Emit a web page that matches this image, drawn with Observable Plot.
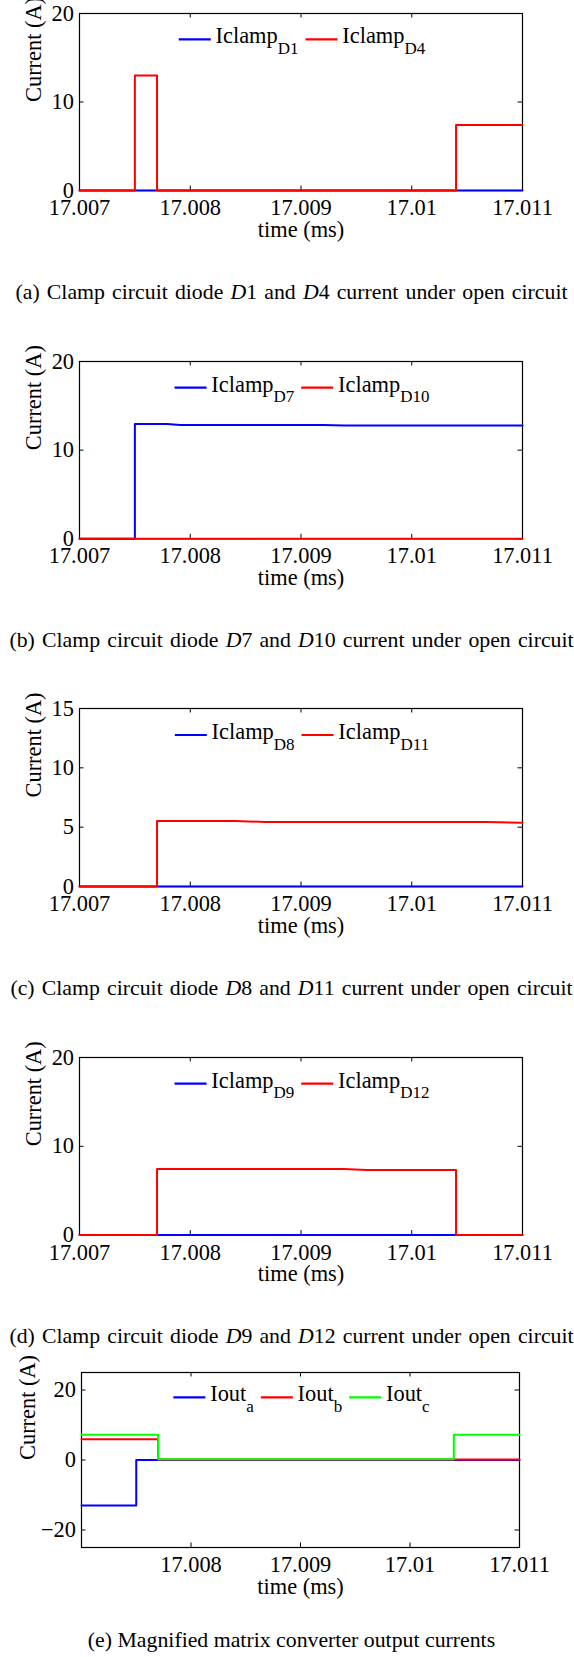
<!DOCTYPE html>
<html><head><meta charset="utf-8">
<script src="https://cdn.jsdelivr.net/npm/d3@7"></script>
<script src="https://cdn.jsdelivr.net/npm/@observablehq/plot@0.6"></script>
<style>
html,body{margin:0;padding:0;background:#fff;}
body{width:574px;height:1657px;position:relative;overflow:hidden;font-family:"Liberation Serif","Times New Roman",serif;}
.panel{position:absolute;left:0;}
.cap{position:absolute;left:0;width:574px;padding-left:9px;box-sizing:border-box;text-align:center;font-size:21.8px;line-height:1;white-space:nowrap;color:#000;}
.cap.j{word-spacing:1.7px;}
.cap i{font-style:italic;}
</style></head><body>
<div class="cap j" style="top:282px">(a) Clamp circuit diode <i>D</i>1 and <i>D</i>4 current under open circuit</div>
<div class="cap j" style="top:630px">(b) Clamp circuit diode <i>D</i>7 and <i>D</i>10 current under open circuit</div>
<div class="cap j" style="top:978px">(c) Clamp circuit diode <i>D</i>8 and <i>D</i>11 current under open circuit</div>
<div class="cap j" style="top:1326px">(d) Clamp circuit diode <i>D</i>9 and <i>D</i>12 current under open circuit</div>
<div class="cap" style="top:1630px">(e) Magnified matrix converter output currents</div>
<script>
// ---------- data ----------
const X_DOMAIN = [17.007, 17.011];
const xTicks = [17.007, 17.008, 17.009, 17.010, 17.011];
const xTickLabels = ["17.007", "17.008", "17.009", "17.01", "17.011"];
const xTicksE = [17.008, 17.009, 17.010, 17.011];
const xTickLabelsE = ["17.008", "17.009", "17.01", "17.011"];

const yTicks20 = [0, 10, 20];
const yTickLabels20 = ["0", "10", "20"];
const yTicks15 = [0, 5, 10, 15];
const yTickLabels15 = ["0", "5", "10", "15"];
const yTicksE = [-20, 0, 20];
const yTickLabelsE = ["\u221220", "0", "20"];

const xLabel = "time (ms)";
const yLabel = "Current (A)";

// (a) Iclamp D1 / D4
const aD1_t = [17.007, 17.011];
const aD1_v = [0, 0];
const aD4_t = [17.007, 17.0075, 17.0075, 17.0077, 17.0077, 17.0104, 17.0104, 17.011];
const aD4_v = [0, 0, 13, 13, 0, 0, 7.4, 7.4];
// (b) Iclamp D7 / D10
const bD7_t = [17.007, 17.0075, 17.0075, 17.00779, 17.00791, 17.0092, 17.00939, 17.011];
const bD7_v = [0, 0, 12.95, 12.95, 12.84, 12.84, 12.77, 12.77];
const bD10_t = [17.007, 17.011];
const bD10_v = [0, 0];
// (c) Iclamp D8 / D11
const cD8_t = [17.007, 17.011];
const cD8_v = [0, 0];
const cD11_t = [17.007, 17.0077, 17.0077, 17.0084, 17.00867, 17.01068, 17.011];
const cD11_v = [0, 0, 5.52, 5.52, 5.44, 5.44, 5.37];
// (d) Iclamp D9 / D12
const dD9_t = [17.007, 17.011];
const dD9_v = [0, 0];
const dD12_t = [17.007, 17.0077, 17.0077, 17.00939, 17.00959, 17.0104, 17.0104, 17.011];
const dD12_v = [0, 0, 7.43, 7.43, 7.33, 7.33, 0, 0];
// (e) Iout a / b / c
const eA_t = [17.007, 17.0075, 17.0075, 17.011];
const eA_v = [-13, -13, 0, 0];
const eB_t = [17.007, 17.0077, 17.0077, 17.011];
const eB_v = [5.95, 5.95, 0.15, 0.15];
const eC_t = [17.007, 17.0077, 17.0077, 17.0104, 17.0104, 17.011];
const eC_v = [7.2, 7.2, 0.25, 0.25, 7.2, 7.2];

const BLUE = "#0000ff", RED = "#ff0000", GREEN = "#00ff00";
const FONT = "'Liberation Serif', 'Times New Roman', serif";
const FS = 22.4;

const zip = (t, v) => t.map((d, i) => ({t: d, v: v[i]}));

const panels = [
  {frameTop: 13, frameH: 177, left: 79, right: 522, yDomain: [0, 20], yTicks: yTicks20, yTickLabels: yTickLabels20,
   xTicks: xTicks, xTickLabels: xTickLabels, ylabDx: -46, legendDy: 26.3, legendCx: 302,
   series: [{t: aD1_t, v: aD1_v, color: BLUE, name: "Iclamp", sub: "D1"}, {t: aD4_t, v: aD4_v, color: RED, name: "Iclamp", sub: "D4"}]},
  {frameTop: 360.7, frameH: 177.3, left: 79, right: 522, yDomain: [0, 20], yTicks: yTicks20, yTickLabels: yTickLabels20,
   xTicks: xTicks, xTickLabels: xTickLabels, ylabDx: -46, legendDy: 26.6, legendCx: 302,
   series: [{t: bD7_t, v: bD7_v, color: BLUE, name: "Iclamp", sub: "D7"}, {t: bD10_t, v: bD10_v, color: RED, name: "Iclamp", sub: "D10"}]},
  {frameTop: 708, frameH: 178, left: 79, right: 522, yDomain: [0, 15], yTicks: yTicks15, yTickLabels: yTickLabels15,
   xTicks: xTicks, xTickLabels: xTickLabels, ylabDx: -46, legendDy: 27, legendCx: 302,
   series: [{t: cD8_t, v: cD8_v, color: BLUE, name: "Iclamp", sub: "D8"}, {t: cD11_t, v: cD11_v, color: RED, name: "Iclamp", sub: "D11"}]},
  {frameTop: 1056.7, frameH: 177.6, left: 79, right: 522, yDomain: [0, 20], yTicks: yTicks20, yTickLabels: yTickLabels20,
   xTicks: xTicks, xTickLabels: xTickLabels, ylabDx: -46, legendDy: 26.6, legendCx: 302,
   series: [{t: dD9_t, v: dD9_v, color: BLUE, name: "Iclamp", sub: "D9"}, {t: dD12_t, v: dD12_v, color: RED, name: "Iclamp", sub: "D12"}]},
  {frameTop: 1372, frameH: 175, left: 81, right: 519, yDomain: [-25, 25], yTicks: yTicksE, yTickLabels: yTickLabelsE,
   xTicks: xTicksE, xTickLabels: xTickLabelsE, ylabDx: -54, legendDy: 25.3, legendCx: 301.5,
   series: [{t: eA_t, v: eA_v, color: BLUE, name: "Iout", sub: "a"}, {t: eB_t, v: eB_v, color: RED, name: "Iout", sub: "b"}, {t: eC_t, v: eC_v, color: GREEN, name: "Iout", sub: "c"}]}
];

const TICK = 4.5;
const MT = 13;

for (const cfg of panels) {
  const H = MT + cfg.frameH + 62;
  const [y0, y1] = cfg.yDomain;
  const [x0, x1] = X_DOMAIN;
  const svg = Plot.plot({
    width: 574, height: H,
    marginLeft: cfg.left, marginRight: 574 - cfg.right, marginTop: MT, marginBottom: H - MT - cfg.frameH,
    x: {domain: X_DOMAIN},
    y: {domain: cfg.yDomain},
    style: {fontFamily: FONT, fontSize: FS + "px", color: "#000", background: "transparent", overflow: "visible"},
    marks: [
      Plot.frame({stroke: "#000", strokeWidth: 1.2}),
      Plot.ruleX(cfg.xTicks, {x: d => d, y1: y0, y2: y0, insetBottom: TICK, stroke: "#000", strokeWidth: 1}),
      Plot.ruleX(cfg.xTicks, {x: d => d, y1: y1, y2: y1, insetTop: TICK, stroke: "#000", strokeWidth: 1}),
      Plot.ruleY(cfg.yTicks, {y: d => d, x1: x0, x2: x0, insetLeft: TICK, stroke: "#000", strokeWidth: 1}),
      Plot.ruleY(cfg.yTicks, {y: d => d, x1: x1, x2: x1, insetRight: TICK, stroke: "#000", strokeWidth: 1}),
      Plot.axisX(cfg.xTicks, {tickSize: 0, tickPadding: 8.5, label: null, fontVariant: "normal", fontFamily: FONT,
        tickFormat: d => cfg.xTickLabels[cfg.xTicks.indexOf(d)]}),
      Plot.axisY(cfg.yTicks, {tickSize: 0, tickPadding: 5.5, label: null, fontVariant: "normal", fontFamily: FONT,
        tickFormat: d => cfg.yTickLabels[cfg.yTicks.indexOf(d)]}),
      Plot.text([xLabel], {frameAnchor: "bottom", text: d => d, dy: 39, lineAnchor: "middle", fontSize: FS, fontFamily: FONT}),
      Plot.text([yLabel], {frameAnchor: "left", text: d => d, rotate: -90, dx: cfg.ylabDx, lineAnchor: "middle", fontSize: FS, fontFamily: FONT}),
      ...cfg.series.map(s => Plot.line(zip(s.t, s.v), {x: "t", y: "v", stroke: s.color, strokeWidth: 2, curve: "linear"}))
    ]
  });
  svg.classList.add("panel");
  svg.style.position = "absolute";
  svg.style.left = "0px";
  svg.style.top = (cfg.frameTop - MT) + "px";
  document.body.appendChild(svg);

  // legend (MATLAB "north", no box)
  const g = d3.select(svg).append("g")
    .attr("font-family", FONT).attr("font-size", FS).attr("fill", "#000").attr("text-anchor", "start");
  const lineY = MT + cfg.legendDy;
  const items = cfg.series.map(s => {
    const ln = g.append("line").attr("stroke", s.color).attr("stroke-width", 2.2).attr("y1", lineY).attr("y2", lineY);
    const tx = g.append("text").attr("y", lineY + 4).attr("text-anchor", "start");
    tx.append("tspan").text(s.name);
    tx.append("tspan").attr("font-size", 17).attr("dy", 10.7).text(s.sub);
    return {ln, tx};
  });
  const LL = 32, GAP = 4.8, SEP = 7;
  const widths = items.map(it => it.tx.node().getComputedTextLength());
  const total = widths.reduce((a, w) => a + LL + GAP + w, 0) + SEP * (items.length - 1);
  let xx = cfg.legendCx - total / 2;
  items.forEach((it, i) => {
    it.ln.attr("x1", xx).attr("x2", xx + LL);
    it.tx.attr("x", xx + LL + GAP);
    xx += LL + GAP + widths[i] + SEP;
  });
}
</script>
</body></html>
